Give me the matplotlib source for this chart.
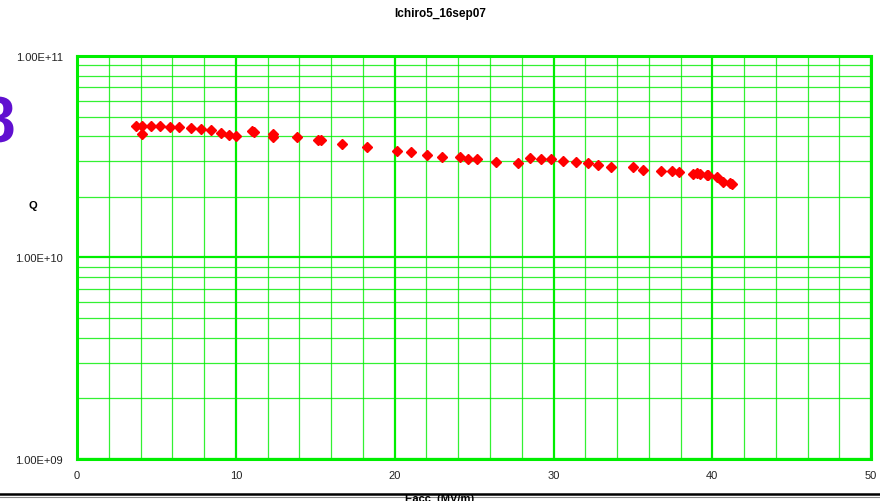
import matplotlib.pyplot as plt
import matplotlib.ticker as mticker
from matplotlib.lines import Line2D

plt.rcParams['font.family'] = ['Liberation Sans', 'DejaVu Sans']

# Eacc (MV/m) and Q values
eacc = [3.70, 4.11, 4.07, 4.66, 5.25, 5.86, 6.44, 7.18, 7.81, 8.44, 9.05, 9.57, 9.99,
        10.99, 11.14, 12.36, 12.36, 13.84, 15.20, 15.35, 16.67, 18.28,
        20.13, 21.03, 22.06, 22.97, 24.12, 24.64, 25.17, 26.39,
        27.79, 28.53, 29.22, 29.83, 30.62, 31.42, 32.16, 32.83, 33.61,
        35.03, 35.62, 36.76, 37.49, 37.91, 38.81, 39.06, 39.23, 39.69, 39.75,
        40.28, 40.66, 41.12, 41.23]
q0 = [4.51e10, 4.51e10, 4.10e10, 4.51e10, 4.51e10, 4.46e10, 4.46e10, 4.39e10, 4.33e10, 4.29e10,
      4.16e10, 4.05e10, 4.02e10,
      4.26e10, 4.20e10, 4.10e10, 3.96e10, 3.95e10, 3.83e10, 3.83e10, 3.66e10, 3.55e10,
      3.39e10, 3.33e10, 3.24e10, 3.14e10, 3.14e10, 3.08e10, 3.08e10, 2.99e10,
      2.94e10, 3.11e10, 3.08e10, 3.08e10, 3.02e10, 2.97e10, 2.93e10, 2.88e10, 2.82e10,
      2.81e10, 2.73e10, 2.70e10, 2.68e10, 2.65e10, 2.60e10, 2.63e10, 2.60e10, 2.58e10, 2.57e10,
      2.50e10, 2.38e10, 2.34e10, 2.32e10]

fig = plt.figure(figsize=(8.8, 5.02), dpi=100)
ax = fig.add_axes([0.0875, 0.0837, 0.9025, 0.8028])

ax.set_yscale('log')
ax.set_xlim(0, 50)
ax.set_ylim(1e9, 1e11)

green = '#00ee00'
ax.xaxis.set_major_locator(mticker.MultipleLocator(10))
ax.xaxis.set_minor_locator(mticker.MultipleLocator(2))
ax.yaxis.set_major_locator(mticker.LogLocator(base=10, numticks=5))
ax.yaxis.set_minor_locator(mticker.LogLocator(base=10, subs=range(2, 10), numticks=20))
ax.yaxis.set_major_formatter(mticker.FuncFormatter(lambda v, p: f"{v:.2E}"))
ax.yaxis.set_minor_formatter(mticker.NullFormatter())

ax.grid(True, which='major', color=green, lw=1.6)
ax.grid(True, which='minor', color=green, lw=0.9, alpha=0.8)
for s in ax.spines.values():
    s.set_color(green)
    s.set_linewidth(2.2)
ax.tick_params(which='both', length=0, labelsize=8, colors='#222222')
ax.tick_params(axis='x', pad=8)
ax.tick_params(axis='y', pad=10)

ax.plot(eacc, q0, linestyle='none', marker='D', color='#ff0000', markersize=5.5, zorder=3,
        clip_on=False)

fig.text(0.5, 0.972, 'Ichiro5_16sep07', ha='center', va='center', fontsize=8.5, fontweight='bold')
fig.text(0.037, 0.59, 'Q', ha='center', va='center', fontsize=8, fontweight='bold')
fig.text(0.5, 0.006, 'Eacc  (MV/m)', ha='center', va='center', fontsize=8, fontweight='bold')
fig.text(-0.003, 0.75, '8', ha='center', va='center', fontsize=46, fontweight='bold',
         color='#6010d0')

fig.add_artist(Line2D([0, 1], [0.014, 0.014], color='black', lw=1.8, transform=fig.transFigure))
fig.add_artist(Line2D([0, 1], [0.008, 0.008], color='#888888', lw=0.8, transform=fig.transFigure))

fig.savefig('out.png', dpi=100)
